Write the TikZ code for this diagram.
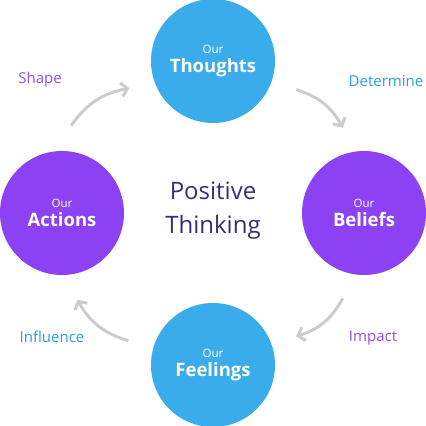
\documentclass[tikz,border=0pt]{standalone}
\usepackage{fontspec}
\setmainfont{Open Sans}
\usetikzlibrary{positioning,arrows.meta}

\definecolor{thinkblue}{HTML}{3AACEB}
\definecolor{thinkpurple}{HTML}{8C42F2}
\definecolor{labelblue}{HTML}{2A9FDE}
\definecolor{labelpurple}{HTML}{9150F0}
\definecolor{arrowgray}{HTML}{CCCCCC}
\definecolor{hubtext}{HTML}{3A2C7C}

\newcommand{\circtext}[1]{{\fontsize{11.5}{12}\selectfont Our}\\[3pt]%
  {\fontsize{18.5}{20}\selectfont\bfseries #1}}

\begin{document}
\begin{tikzpicture}%
  [x=1pt,y=1pt,
   stage/.style=
    {circle,minimum size=124pt,inner sep=0pt,outer sep=26pt,
     text=white,align=center},
   bluestage/.style={stage,fill=thinkblue},
   purplestage/.style={stage,fill=thinkpurple},
   verb/.style={font=\fontsize{15}{17}\selectfont},
   flow/.style={arrowgray,line width=3pt,
     -{Straight Barb[length=6pt,width=14pt,line width=3pt]}}
  ]
  \useasboundingbox (0,0) rectangle (426,426);
  \node[text=hubtext,align=center,font=\fontsize{24}{34}\selectfont]
    (positive) at (213,215) {Positive\\Thinking};
  \node[bluestage] (thoughts) at (213,365) {\circtext{Thoughts}};
  \node[purplestage] (beliefs) at (364,213) {\circtext{Beliefs}};
  \node[bluestage] (feelings) at (213,61) {\circtext{Feelings}};
  \node[purplestage] (actions) at (62,213) {\circtext{Actions}};
  % arrows round the cycle
  \draw[flow] (thoughts.-19) to[bend left=22] (beliefs.104);
  \draw[flow] (beliefs.-104) to[bend left=22] (feelings.19);
  \draw[flow] (feelings.164) to[bend left=22] (actions.-80);
  \draw[flow] (actions.84) to[bend left=22] (thoughts.-162);
  % verbs
  \node[verb,text=labelpurple] (shape) at (40,346) {Shape};
  \node[verb,text=labelblue] (determine) at (386,345) {Determine};
  \node[verb,text=labelpurple] (impact) at (373,88) {Impact};
  \node[verb,text=labelblue] (influence) at (52,89) {Influence};
\end{tikzpicture}
\end{document}
